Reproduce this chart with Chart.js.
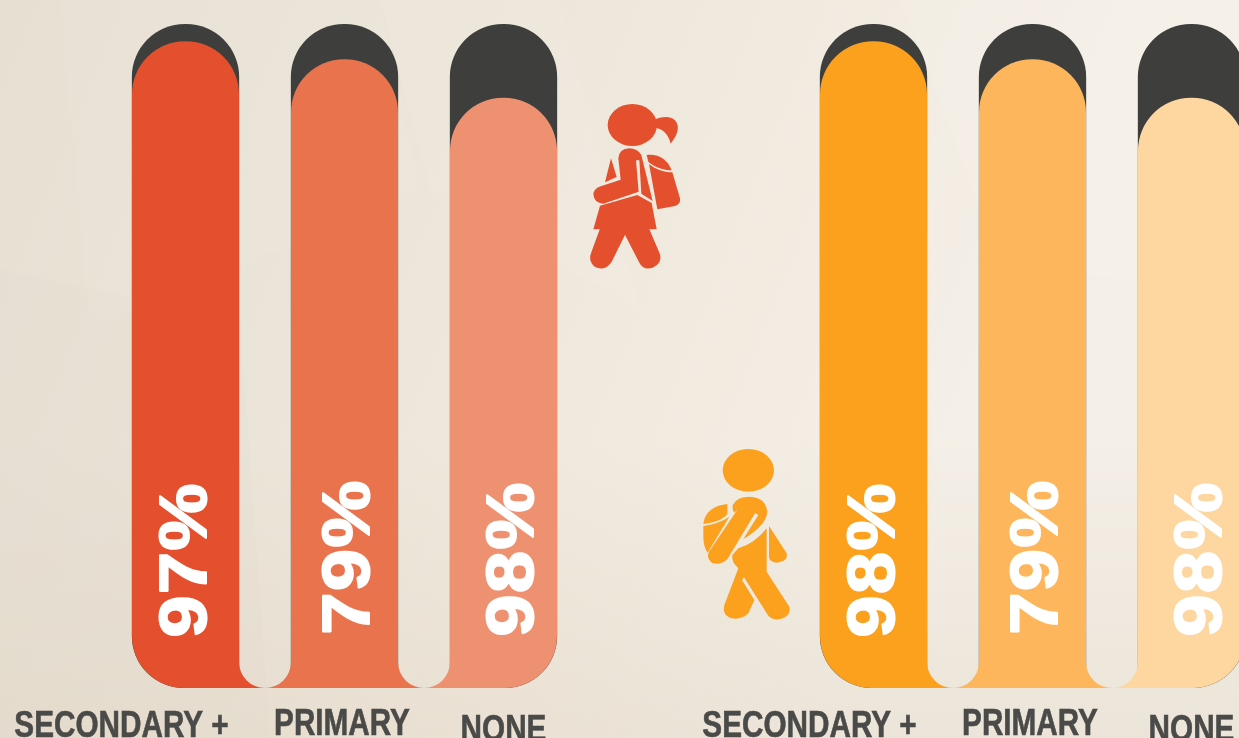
<!DOCTYPE html>
<html><head><meta charset="utf-8">
<script src="https://cdn.jsdelivr.net/npm/chart.js@4"></script>
<style>
html,body{margin:0;padding:0;width:1239px;height:738px;overflow:hidden}
body{position:relative;background:linear-gradient(112deg,#e6dfd2 0%,#ebe4d8 28%,#f1eadf 52%,#f4efe7 74%,#f4efe7 100%)}
#bg,#fig1,#fig2{position:absolute}
#bg{left:0;top:0}
canvas{position:absolute;top:0}
#c1{left:0}
#c2{left:690px}
</style></head><body>
<svg id="bg" width="1239" height="738" viewBox="0 0 1239 738">
  <defs><linearGradient id="low" x1="0" y1="0" x2="0" y2="1">
    <stop offset="0" stop-color="#d9ccb8" stop-opacity="0"/><stop offset="1" stop-color="#d9ccb8" stop-opacity=".3"/>
  </linearGradient></defs>
  <rect x="0" y="440" width="1239" height="298" fill="url(#low)"/>
  <polygon points="0,738 0,270 240,320 270,738" fill="#e2d9cb" opacity=".18"/>
  <polygon points="60,0 380,0 420,190 90,330" fill="#f4eee4" opacity=".12"/>
  <polygon points="380,0 560,0 640,310 430,190" fill="#f7f2e8" opacity=".15"/>
  <polygon points="900,0 1239,0 1239,300 1000,260" fill="#f7f3ec" opacity=".25"/>
</svg>
<canvas id="c1" width="600" height="738" style="width:600px;height:738px"></canvas>
<canvas id="c2" width="590" height="738" style="width:590px;height:738px"></canvas>
<svg id="fig1" style="left:580px;top:95px" width="110" height="180" viewBox="0 0 330 540" fill="#e4502e" stroke="none">
  <ellipse cx="157" cy="90" rx="74" ry="63"/>
  <path d="M222,74C240,66 270,60 285,76C300,92 295,118 272,146C266,120 250,100 222,98Z"/>
  <path d="M93,190L110,246L75,262Z"/>
  <path d="M115,190Q118,160 148,160Q172,160 184,180L218,318L184,296L178,196L168,196L176,290L70,326Q42,325 40,298Q42,280 62,274L122,254Z"/>
  <path d="M60,332L172,300L215,324L230,403L40,403Z"/>
  <path d="M62,395L135,395L136,418L95,500Q75,530 45,516Q22,498 34,472Z"/>
  <path d="M134,418L130,395L205,395L240,478Q248,505 218,518Q190,527 178,503Z"/>
  <path d="M200,180C235,176 262,192 275,226C250,226 222,216 205,200Z"/>
  <path d="M207,207C225,222 250,232 277,232L300,310Q303,328 285,333L232,343Z"/>
</svg>
<svg id="fig2" style="left:695px;top:440px" width="110" height="190" viewBox="0 0 330 570" fill="#fba11e" stroke="none">
  <ellipse cx="160" cy="91" rx="77" ry="64"/>
  <path d="M97,192C60,195 28,215 25,252C60,248 85,238 97,222Z"/>
  <path d="M25,258C60,252 85,243 103,230L38,338Q25,320 25,290Z"/>
  <path d="M113,195Q125,170 165,170Q212,172 217,215Q215,255 145,297L190,225L180,220L97,358Q75,378 50,368Q32,350 42,335L128,208L118,218Q112,212 113,195Z"/>
  <path d="M215,265L215,395L283,500Q290,530 250,538Q225,540 215,520L147,412L141,420L178,480L160,520Q140,540 110,535Q80,525 88,495L130,385Q108,365 112,345L130,325Q180,310 215,265Z"/>
  <path d="M222,258L275,340Q280,365 245,368Q222,365 222,350Z"/>
</svg>
<script>
// ---- data ----
const categories = ['SECONDARY +', 'PRIMARY', 'NONE'];
const girlsBarHeights = [97.4, 94.7, 88.9];
const boysBarHeights = [97.4, 94.7, 88.9];
const trackValues = [100, 100, 100];
const girlsLabels = ['97%', '79%', '98%'];
const boysLabels = ['98%', '79%', '98%'];
const girlsColors = ['#e4502e', '#e8734c', '#ee9170'];
const boysColors = ['#fba11e', '#fdb65b', '#fed6a0'];

// ---- layout ----
const trackColor = '#3e3e3c';
const tickColor = '#4a4a48';
const TOP_R = 53, FOOT_R = 52, TICK_SQUEEZE = 0.825;
const tickNudge = [{dx:-64, y:737}, {dx:-2.5, y:735}, {dx:0, y:741}];

function footPlugin(colors){
  return {id:'foot', afterDatasetsDraw(chart){
    const ctx = chart.ctx, bars = chart.getDatasetMeta(0).data;
    const bottom = chart.scales.y.getPixelForValue(0);
    bars.forEach((b,i)=>{
      ctx.fillStyle = colors[i];
      const w = b.width/2;
      if(i < bars.length-1){
        const right = b.x+w, left2 = bars[i+1].x-w, r=(left2-right)/2, mid=right+r;
        ctx.beginPath(); ctx.moveTo(right-2,bottom-r); ctx.lineTo(right,bottom-r);
        ctx.arc(mid,bottom-r,r,Math.PI,Math.PI/2,true);
        ctx.lineTo(right-2,bottom); ctx.closePath(); ctx.fill();
      }
      if(i > 0){
        const left = b.x-w, right0 = bars[i-1].x+w, r=(left-right0)/2, mid=left-r;
        ctx.beginPath(); ctx.moveTo(left+2,bottom-r); ctx.lineTo(left,bottom-r);
        ctx.arc(mid,bottom-r,r,0,Math.PI/2,false);
        ctx.lineTo(left+2,bottom); ctx.closePath(); ctx.fill();
      }
    });
  }};
}
function valuePlugin(labels, shift){
  return {id:'vals', afterDatasetsDraw(chart){
    const ctx = chart.ctx, bars = chart.getDatasetMeta(0).data;
    bars.forEach((b,i)=>{
      ctx.save();
      ctx.translate(b.x+shift[i].dx, shift[i].y);
      ctx.rotate(-Math.PI/2);
      ctx.scale(1.14,1);
      ctx.font = 'bold 66px "Liberation Sans"';
      ctx.letterSpacing = '1.5px';
      ctx.textAlign='left'; ctx.textBaseline='alphabetic';
      ctx.fillStyle='#fff'; ctx.strokeStyle='#fff'; ctx.lineWidth=2; ctx.lineJoin='round';
      ctx.strokeText(labels[i],0,0); ctx.fillText(labels[i],0,0);
      ctx.restore();
    });
  }};
}
const tickPlacer = {id:'tickPlacer', beforeDraw(chart){
  const s = chart.scales.x, ctx = chart.ctx;
  s.getLabelItems(chart.chartArea).forEach((it,i)=>{
    it.options.translation = [(s.getPixelForTick(i)+tickNudge[i].dx)/TICK_SQUEEZE, tickNudge[i].y];
    it.options.textAlign='center'; it.options.textBaseline='alphabetic'; it.textOffset=0;
  });
  s._computeLabelArea = () => undefined;
  const draw = s.drawLabels;
  s.drawLabels = function(area){ ctx.save(); ctx.scale(TICK_SQUEEZE,1); draw.call(s,area); ctx.restore(); };
}};
function makeChart(id, values, colors, labels, shift, pad){
  const n = values.length;
  const radius = i => ({topLeft:TOP_R, topRight:TOP_R, bottomLeft:i===0?FOOT_R:0, bottomRight:i===n-1?FOOT_R:0});
  return new Chart(document.getElementById(id),{
    type:'bar',
    data:{labels:categories, datasets:[
      {data:values, backgroundColor:colors, borderRadius:c=>radius(c.dataIndex), borderSkipped:false},
      {data:trackValues, backgroundColor:trackColor, borderRadius:c=>radius(c.dataIndex), borderSkipped:false, barPercentage:0.675}
    ]},
    options:{
      responsive:false, animation:false, devicePixelRatio:1,
      layout:{padding:{left:pad.left,right:pad.right,top:24,bottom:0}},
      datasets:{bar:{grouped:false,categoryPercentage:1,barPercentage:0.673}},
      plugins:{legend:{display:false},tooltip:{enabled:false},title:{display:false}},
      scales:{
        y:{display:false,min:0,max:100},
        x:{grid:{display:false},border:{display:false},
           afterFit(s){s.height=50;},
           ticks:{autoSkip:false,maxRotation:0,minRotation:0,padding:0,color:tickColor,
                  font:{family:'"Liberation Sans"',weight:'bold',size:36},
                  textStrokeColor:tickColor,textStrokeWidth:0.6}}
      }
    },
    plugins:[tickPlacer,footPlugin(colors),valuePlugin(labels,shift)]
  });
}
makeChart('c1',girlsBarHeights,girlsColors,girlsLabels,
  [{dx:20,y:637.5},{dx:24,y:634.5},{dx:29,y:636.5}],{left:106,right:17});
makeChart('c2',boysBarHeights,boysColors,boysLabels,
  [{dx:20,y:637.5},{dx:24,y:634.5},{dx:29,y:636.5}],{left:104,right:9});
</script>
</body></html>
